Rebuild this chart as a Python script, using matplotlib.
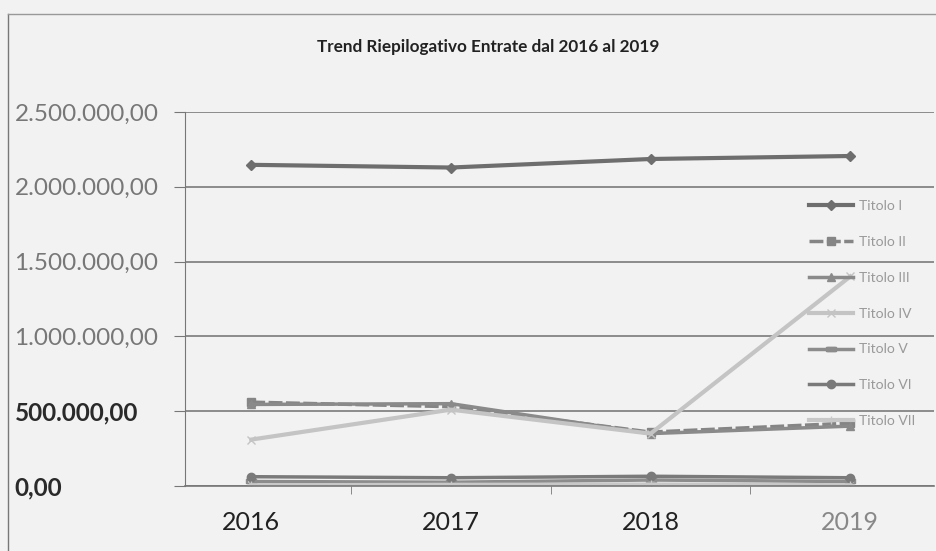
import matplotlib
matplotlib.use("Agg")
import matplotlib.pyplot as plt
from matplotlib.ticker import FuncFormatter

plt.rcParams['font.family'] = ['Lato', 'DejaVu Sans']

years = ["2016", "2017", "2018", "2019"]
titolo_1 = [2146000, 2128000, 2185000, 2205000]
titolo_2 = [560000, 530000, 360000, 420000]
titolo_3 = [545000, 550000, 350000, 400000]
titolo_4 = [310000, 510000, 350000, 1400000]
titolo_5 = [30000, 25000, 40000, 30000]
titolo_6 = [62000, 55000, 65000, 55000]
titolo_7 = [5000, 8000, 10000, 5000]
labels = ["Titolo I", "Titolo II", "Titolo III", "Titolo IV", "Titolo V", "Titolo VI", "Titolo VII"]
yticks = [0, 500000, 1000000, 1500000, 2000000, 2500000]

series = [titolo_1, titolo_2, titolo_3, titolo_4, titolo_5, titolo_6, titolo_7]
styles = [
    dict(color="#6e6e6e", lw=3, marker="D", ms=5, ls="-"),
    dict(color="#858585", lw=2.5, marker="s", ms=6, ls=(0, (4, 1))),
    dict(color="#8a8a8a", lw=2.5, marker="^", ms=6, ls="-"),
    dict(color="#c4c4c4", lw=3, marker="x", ms=6, ls="-"),
    dict(color="#8c8c8c", lw=2.5, marker="$\u25ad$", ms=7, ls="-"),
    dict(color="#7a7a7a", lw=2.5, marker="o", ms=6, ls="-"),
    dict(color="#c8c8c8", lw=3, marker="+", ms=6, ls="-"),
]

bg = "#f2f2f2"
fig = plt.figure(figsize=(9.36, 5.51), dpi=100, facecolor=bg)
ax = fig.add_axes([0.198, 0.118, 0.80, 0.679])
ax.set_facecolor(bg)

x = list(range(len(years)))
for s, lab, st in zip(series, labels, styles):
    ax.plot(x, s, label=lab, **st)

ax.set_xlim(-0.33, 3.42)
ax.set_ylim(0, 2500000)
ax.set_yticks(yticks)
ax.yaxis.set_major_formatter(FuncFormatter(
    lambda v, p: f"{v:,.2f}".replace(",", "X").replace(".", ",").replace("X", ".")))
ax.grid(axis="y", color="#7a7a7a", lw=1.2)
ax.set_axisbelow(True)
ax.set_xticks(x)
ax.set_xticklabels(years, fontsize=18, color="#222222")
ax.get_xticklabels()[-1].set_color("#888888")
ax.set_xticks([0.5, 1.5, 2.5], minor=True)
ax.tick_params(axis="x", which="major", length=0, pad=18)
ax.tick_params(axis="x", which="minor", length=6, color="#777777")
ax.tick_params(axis="y", length=8, color="#777777", labelsize=17.5, labelcolor="#777777", pad=115)
ylabs = ax.get_yticklabels()
for i, lab in enumerate(ylabs):
    lab.set_horizontalalignment("left")
    if i < 2:
        lab.set_color("#2a2a2a")
        lab.set_fontweight("bold")
for side in ["top", "right"]:
    ax.spines[side].set_visible(False)
ax.spines["left"].set_color("#777777")
ax.spines["bottom"].set_color("#777777")
ax.spines["bottom"].set_linewidth(1.2)

fig.text(0.522, 0.905, "Trend Riepilogativo Entrate dal 2016 al 2019", ha="center",
         fontsize=12.3, fontweight="bold", color="#222222")

leg = fig.legend(loc="upper left", bbox_to_anchor=(0.851, 0.66), frameon=False,
                 fontsize=10, labelspacing=1.72, handlelength=3.2, handletextpad=0.4)
for t in leg.get_texts():
    t.set_color("#999999")

# chart border
fig.add_artist(plt.Line2D([0.009, 0.009], [0.0, 0.975], transform=fig.transFigure, color="#777777", lw=1))
fig.add_artist(plt.Line2D([0.009, 1.0], [0.975, 0.975], transform=fig.transFigure, color="#999999", lw=1))

fig.savefig("out.png", dpi=100, facecolor=bg)
